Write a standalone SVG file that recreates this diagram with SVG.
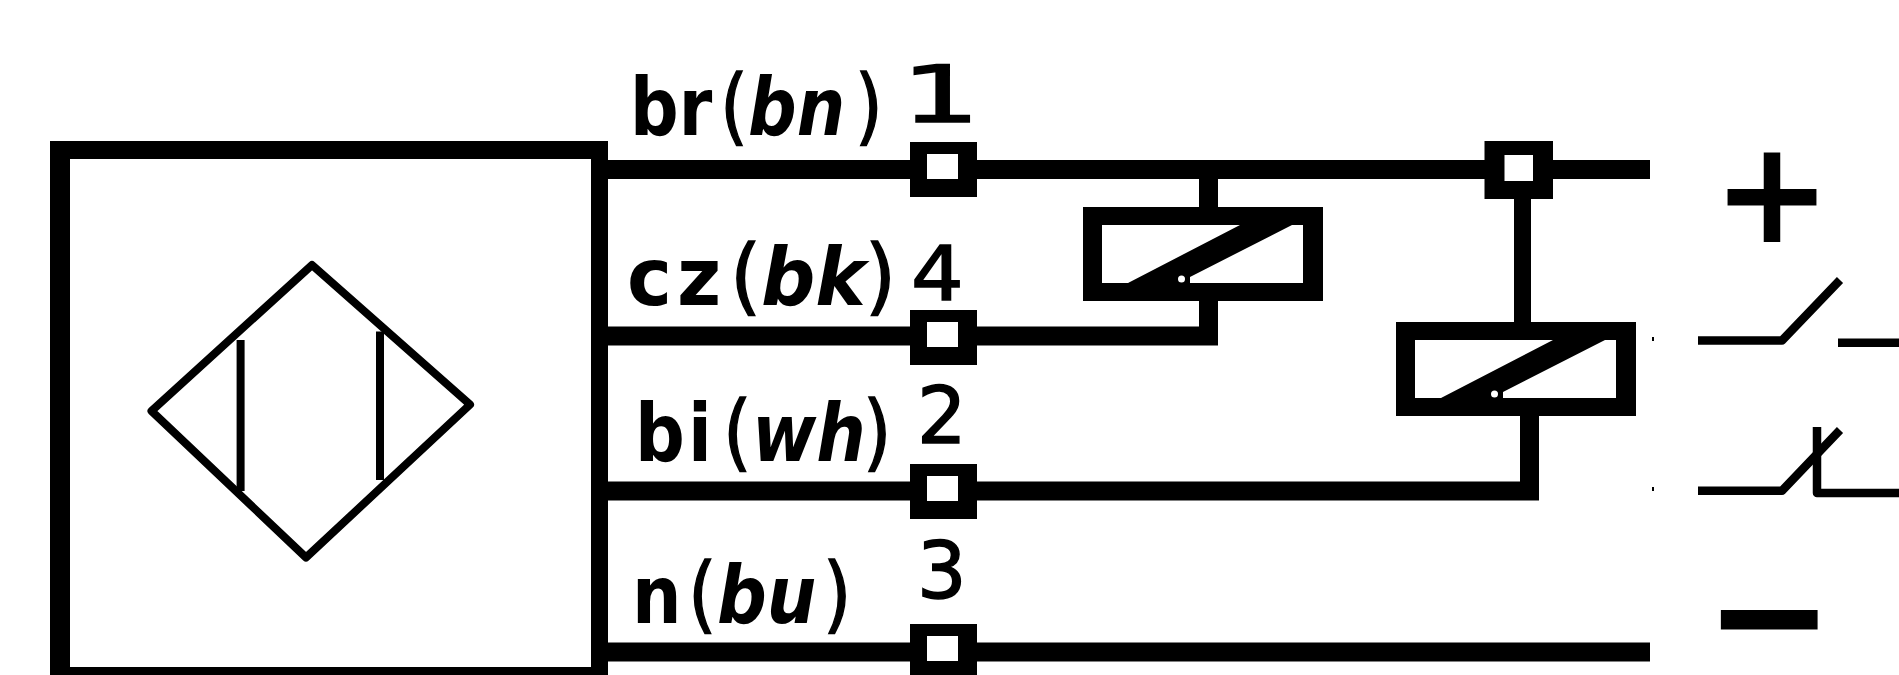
<svg xmlns="http://www.w3.org/2000/svg" width="1899" height="675" viewBox="0 0 1899 675">
<style>
.wire{stroke:#000;stroke-width:19;fill:none}
.stem{stroke:#000;fill:none}
.thin{stroke:#000;stroke-width:8;fill:none;stroke-linejoin:round}
.sw{stroke:#000;stroke-width:8.5;fill:none;stroke-linejoin:round}
.lab{font-family:"DejaVu Sans",sans-serif;font-weight:700;font-size:80px;fill:#000}
.lab .i{font-style:italic}
.lab .p{font-weight:400;font-size:84px;stroke:#000;stroke-width:1.5}
.num{font-family:"DejaVu Sans",sans-serif;font-size:78px;fill:#000;stroke:#000;stroke-width:1.5}
.sign{font-family:"DejaVu Sans",sans-serif;font-weight:700;fill:#000;text-anchor:middle}
.blk{fill:#000}
.wht{fill:#fff}
</style>
<defs>
<g id="coil">
<rect class="blk" width="240" height="94"/>
<rect class="wht" x="19" y="18" width="201" height="58"/>
<path class="blk" d="M45 76L157 18H209L107 70V76Z"/>
<circle class="wht" cx="98.500" cy="72" r="3.500"/>
</g>
<g id="term">
<rect class="blk" width="67" height="55"/>
<rect class="wht" x="17" y="12" width="31" height="25"/>
</g>
</defs>
<rect width="1899" height="675" fill="#fff"/>
<g id="connectors">
<path class="wire" d="M600 169.500H1650"/>
<path class="wire" d="M600 336H1218"/>
<path class="wire" d="M600 491H1539"/>
<path class="wire" d="M600 652H1650"/>
<path class="stem" stroke-width="19" d="M1208.500 169V345"/>
<path class="stem" stroke-width="17" d="M1522.500 170V330"/>
<path class="stem" stroke-width="19" d="M1529.500 410V500"/>
</g>
<g id="sensor">
<path class="blk" fill-rule="evenodd" d="M50 141H608V690H50ZM70 159V667H591V159Z"/>
<path class="thin" d="M312 265L151.500 411L306 557.500L470 404.600Z"/>
<path class="thin" stroke-width="7" d="M240.600 340V491M380 331.500V480"/>
</g>
<g id="terminal-1"><use href="#term" x="910" y="142"/></g>
<g id="terminal-4"><use href="#term" x="910" y="310"/></g>
<g id="terminal-2"><use href="#term" x="910" y="464"/></g>
<g id="terminal-3"><use href="#term" x="910" y="624"/></g>
<g id="terminal-5">
<rect class="blk" x="1484.500" y="141" width="68.500" height="58"/>
<rect class="wht" x="1504.500" y="155" width="28.500" height="26"/>
</g>
<g id="relay-1"><use href="#coil" x="1083" y="207"/></g>
<g id="relay-2"><use href="#coil" x="1396" y="322"/></g>
<g id="switch-no">
<path class="sw" d="M1698 340.500H1782L1840 280"/>
<path class="sw" d="M1838 342.700H1899"/>
<rect class="blk" x="1652" y="337" width="2" height="4"/>
</g>
<g id="switch-nc">
<path class="sw" d="M1698 490.700H1782L1840 430"/>
<path class="sw" d="M1817 427V493H1899"/>
<rect class="blk" x="1652" y="487" width="2" height="4"/>
</g>
<g id="labels">
<text class="lab" transform="translate(630 135) scale(.85 1)">br<tspan class="p" x="105.900">(</tspan><tspan class="i" x="138.800">bn</tspan><tspan class="p" x="264.700">)</tspan></text>
<text class="lab" transform="translate(627 305) scale(.95 1)">c<tspan x="52.600">z</tspan><tspan class="p" x="108.400">(</tspan><tspan class="i" x="141">bk</tspan><tspan class="p" x="250.500">)</tspan></text>
<text class="lab" transform="translate(635 461) scale(.87 1)">b<tspan x="60.900">i</tspan><tspan class="p" x="101.100">(</tspan><tspan class="i" x="134.500">wh</tspan><tspan class="p" x="262">)</tspan></text>
<text class="lab" transform="translate(632 623) scale(.87 1)">n<tspan class="p" x="64.400">(</tspan><tspan class="i" x="97.700">bu</tspan><tspan class="p" x="219.500">)</tspan></text>
<text class="num" transform="translate(901 122) scale(1.6 1)">1</text>
<text class="num" style="font-size:74px" transform="translate(911 300) scale(1.12 1)">4</text>
<text class="num" x="917" y="443">2</text>
<text class="num" x="917" y="598">3</text>
<text class="sign" style="font-size:142px" x="1772" y="242.400">+</text>
<text class="sign" style="font-size:100px;stroke:#000;stroke-width:8" transform="translate(1769.500 650.500) scale(1.37 1)">−</text>
</g>
</svg>
